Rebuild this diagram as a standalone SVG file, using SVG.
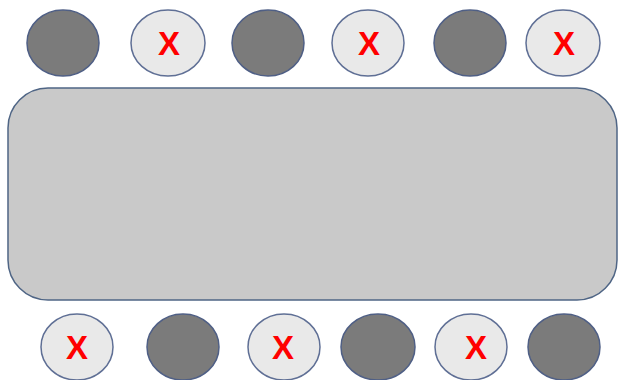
<svg xmlns="http://www.w3.org/2000/svg" width="618" height="380" viewBox="0 0 618 380">
<style>
.dark{fill:#7b7b7b;stroke:#4f5f85;stroke-width:1.5}
.light{fill:#e9e9e9;stroke:#5f6f95;stroke-width:1.5}
.x{font-family:"Liberation Sans",Arial,sans-serif;font-weight:bold;font-size:33px;fill:#ff0000;text-anchor:middle}
.table{fill:#c9c9c9;stroke:#4f6585;stroke-width:1.5}
</style>
<rect width="618" height="380" fill="#ffffff"/>
<g id="table"><rect class="table" x="8" y="88" width="609" height="212" rx="40" ry="40"/></g>
<g id="t1"><ellipse class="dark" cx="63" cy="43" rx="36" ry="33"/></g>
<g id="t2"><ellipse class="light" cx="168" cy="43" rx="37" ry="33"/><text class="x" x="169" y="55">X</text></g>
<g id="t3"><ellipse class="dark" cx="268" cy="43" rx="36" ry="33"/></g>
<g id="t4"><ellipse class="light" cx="368" cy="43" rx="36" ry="33"/><text class="x" x="369" y="55">X</text></g>
<g id="t5"><ellipse class="dark" cx="470" cy="43" rx="36" ry="33"/></g>
<g id="t6"><ellipse class="light" cx="563" cy="43" rx="37" ry="33"/><text class="x" x="564" y="55">X</text></g>
<g id="b1"><ellipse class="light" cx="77" cy="347" rx="36" ry="33"/><text class="x" x="77" y="359">X</text></g>
<g id="b2"><ellipse class="dark" cx="183" cy="347" rx="36" ry="33"/></g>
<g id="b3"><ellipse class="light" cx="284" cy="347" rx="36" ry="33"/><text class="x" x="283" y="359">X</text></g>
<g id="b4"><ellipse class="dark" cx="378" cy="347" rx="37" ry="33"/></g>
<g id="b5"><ellipse class="light" cx="471" cy="347" rx="36" ry="33"/><text class="x" x="476" y="359">X</text></g>
<g id="b6"><ellipse class="dark" cx="564" cy="347" rx="36" ry="33"/></g>
<g id="connectors"></g>
</svg>
